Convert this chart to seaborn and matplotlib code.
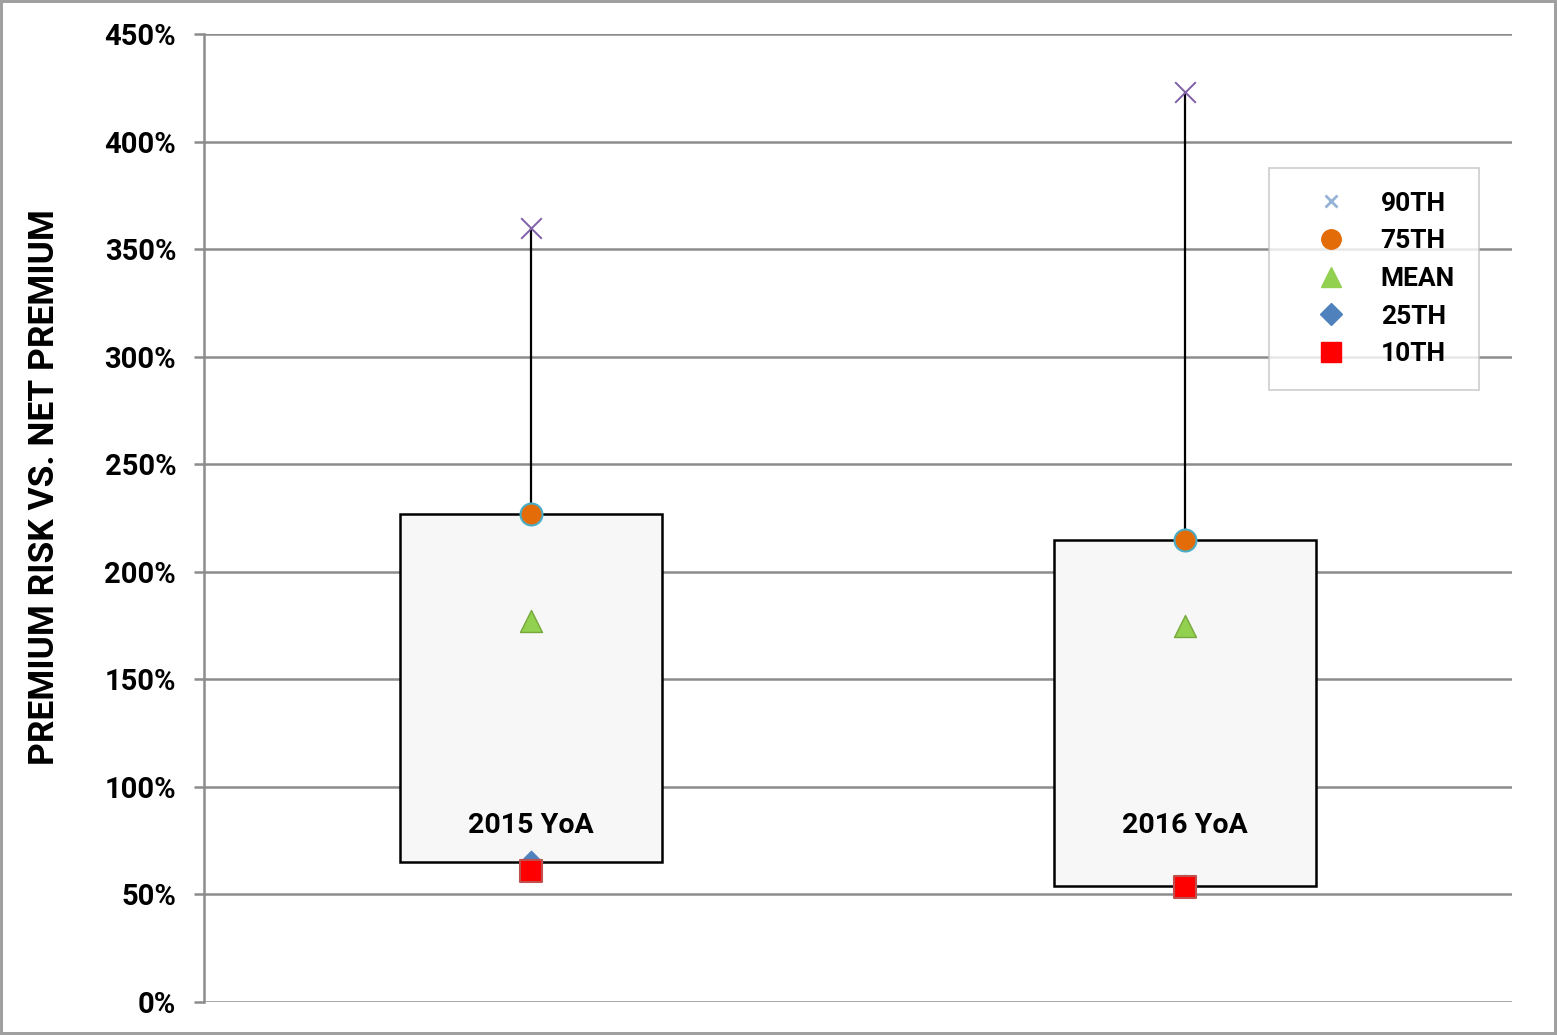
import matplotlib
matplotlib.use("Agg")
import matplotlib.pyplot as plt
from matplotlib.lines import Line2D
from matplotlib.ticker import FuncFormatter, MultipleLocator
import seaborn as sns
import pandas as pd

categories = ["2015 YoA", "2016 YoA"]
p90 = [360, 423]
p75 = [227, 215]
mean = [177, 175]
p25 = [65, 54]
p10 = [61, 53.5]
label_y = [82, 82]

sns.set_theme(style="white")
plt.rcParams['font.family'] = ['Roboto', 'DejaVu Sans']
plt.rcParams['text.color'] = 'black'
plt.rcParams['ytick.color'] = 'black'
plt.rcParams['axes.labelcolor'] = 'black'

fig = plt.figure(figsize=(15.57, 10.35), dpi=100)
fig.patch.set_edgecolor("#a0a0a0")
fig.patch.set_linewidth(3)
ax = fig.add_axes([0.131, 0.0319, 0.84, 0.935])

df = pd.DataFrame({"cat": categories, "p90": p90, "p75": p75, "mean": mean,
                   "p25": p25, "p10": p10})

# boxes (25th-75th)
heights = [a - b for a, b in zip(p75, p25)]
ax.bar(categories, heights, bottom=p25, width=0.4, color="#f7f7f7",
       edgecolor="black", linewidth=1.8, zorder=2)
# whiskers
ax.vlines(categories, p75, p90, color="black", linewidth=1.6, zorder=2)

sns.scatterplot(data=df, x="cat", y="p10", marker="s", s=250, color="#ff0000",
                edgecolor="#c0504d", linewidth=1.5, ax=ax, zorder=4)
sns.scatterplot(data=df, x="cat", y="p25", marker="D", s=140, color="#4f81bd",
                edgecolor="#4f81bd", linewidth=0.5, ax=ax, zorder=3)
sns.scatterplot(data=df, x="cat", y="mean", marker="^", s=250, color="#92d050",
                edgecolor="#76a83a", linewidth=1, ax=ax, zorder=4)
sns.scatterplot(data=df, x="cat", y="p75", marker="o", s=250, color="#e36c09",
                edgecolor="#4bacc6", linewidth=1.5, ax=ax, zorder=4)
sns.scatterplot(data=df, x="cat", y="p90", marker="x", s=220, color="#7f60a8",
                linewidth=1.4, ax=ax, zorder=4)

for c, y in zip(categories, label_y):
    ax.text(c, y, c, ha="center", va="center", fontsize=20.5, fontweight="bold",
            color="black", zorder=5)

ax.set_xlim(-0.5, 1.5)
ax.set_ylim(0, 450)
ax.yaxis.set_major_locator(MultipleLocator(50))
ax.yaxis.set_major_formatter(FuncFormatter(lambda v, p: f"{int(v)}%"))
ax.grid(axis="y", color="#8c8c8c", linewidth=1.8, zorder=0)
ax.set_axisbelow(True)
for s in ["top", "right", "bottom"]:
    ax.spines[s].set_visible(False)
ax.spines["left"].set_color("#8c8c8c")
ax.spines["left"].set_linewidth(1.8)
ax.tick_params(axis="y", direction="out", length=7, width=1.8, color="#8c8c8c",
               labelcolor="black", labelsize=21, pad=13, left=True)
for t in ax.get_yticklabels():
    t.set_fontweight("bold")
ax.set_xticks([])
ax.set_xlabel("")
ax.set_ylabel("PREMIUM RISK VS. NET PREMIUM", fontsize=25.5, fontweight="bold")
ax.yaxis.set_label_coords(-0.109, 0.532)

handles = [
    Line2D([], [], marker="x", color="#95b3d7", linestyle="none", markersize=9, markeredgewidth=2),
    Line2D([], [], marker="o", color="#e36c09", linestyle="none", markersize=14),
    Line2D([], [], marker="^", color="#92d050", linestyle="none", markersize=14),
    Line2D([], [], marker="D", color="#4f81bd", linestyle="none", markersize=11),
    Line2D([], [], marker="s", color="#ff0000", linestyle="none", markersize=14),
]
labels = ["90TH", "75TH", "MEAN", "25TH", "10TH"]
leg = ax.legend(handles, labels, loc="upper left", bbox_to_anchor=(0.814, 0.862),
                frameon=True, fancybox=False, edgecolor="#c0c0c0",
                prop={"weight": "bold", "size": 19}, labelspacing=0.52,
                handlelength=2.9, handletextpad=0.45, borderpad=0.9,
                borderaxespad=0)
leg.get_frame().set_linewidth(1.2)

fig.savefig("out.png", dpi=100)
